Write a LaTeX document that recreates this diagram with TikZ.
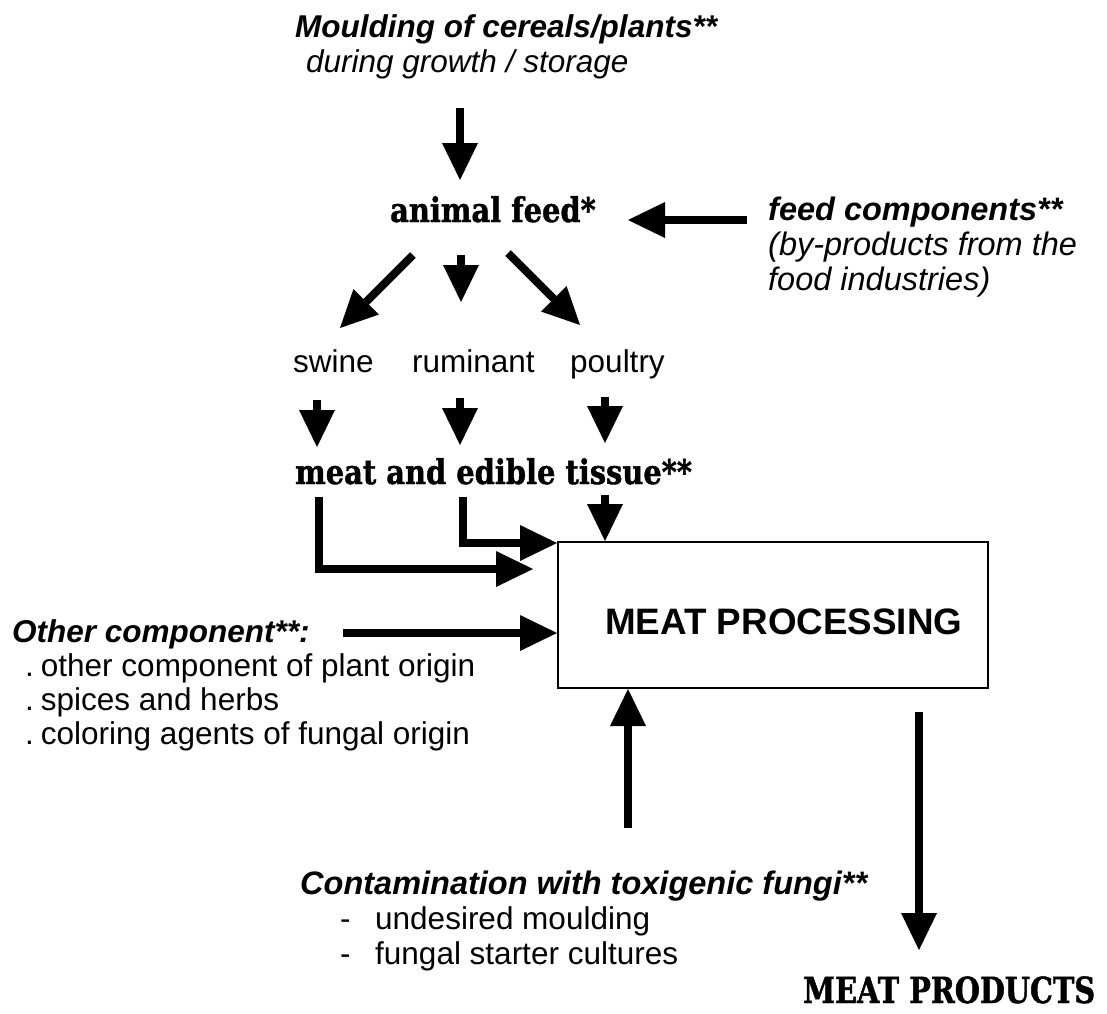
\documentclass[tikz,border=0pt]{standalone}
\usepackage{fontspec}
\setmainfont{Liberation Sans}
\newfontfamily\bookf{DejaVu Serif}[FakeStretch=0.85,FakeBold=1.2]
\newfontfamily\bookc{DejaVu Serif}[FakeStretch=0.8,FakeBold=1.2]
\usetikzlibrary{arrows.meta}
\begin{document}
\begin{tikzpicture}[x=1pt,y=-1pt,
  txt/.style={anchor=base west, inner sep=0pt, font=\fontsize{31.5}{35}\selectfont},
  btxt/.style={txt, font=\fontsize{31.5}{35}\selectfont\bfseries\itshape},
  itxt/.style={txt, font=\fontsize{31.5}{35}\selectfont\itshape},
  fctxt/.style={txt, font=\fontsize{32.5}{35}\selectfont\itshape},
  sertxt/.style={anchor=base west, inner sep=0pt, font=\fontsize{34}{36}\selectfont\bookf\bfseries},
  arr/.style={line width=8pt, -{Triangle[width=36pt,length=37pt,line width=0pt]}},
  boxstyle/.style={draw, line width=2pt, inner sep=0pt, anchor=north west}
]
\useasboundingbox[fill=white] (0,0) rectangle (1107,1013);

% top texts
\node[btxt] (t1) at (295,37) {Moulding of cereals/plants**};
\node[itxt] (t2) at (306,72) {during growth / storage};
\node[sertxt] (feed) at (390,222) {animal feed*};
\node[fctxt, font=\fontsize{32.5}{35}\selectfont\bfseries\itshape] (fc1) at (768,220) {feed components**};
\node[fctxt] (fc2) at (768,255) {(by-products from the};
\node[fctxt] (fc3) at (768,290) {food industries)};

% animals
\node[txt] (swine) at (293,372) {swine};
\node[txt] (rum) at (412,372) {ruminant};
\node[txt] (poul) at (570,372) {poultry};

\node[sertxt] (meat) at (295,484) {meat and edible tissue**};

% box
\node[boxstyle, minimum width=430pt, minimum height=146pt] (box) at (557,541) {};
\node[anchor=base west, inner sep=0pt, font=\fontsize{36.8}{40}\selectfont\bfseries] (mp) at (605,634) {MEAT PROCESSING};

% other components
\node[btxt] (oc) at (12,642) {Other component**:};
\node[txt] (oc1) at (25,676) {.\hspace{7pt}other component of plant origin};
\node[txt] (oc2) at (25,710) {.\hspace{7pt}spices and herbs};
\node[txt] (oc3) at (25,744) {.\hspace{7pt}coloring agents of fungal origin};

% contamination
\node[btxt, font=\fontsize{32.5}{35}\selectfont\bfseries\itshape] (cont) at (300,894) {Contamination with toxigenic fungi**};
\node[txt] (d1) at (340,929) {-};
\node[txt] (c1) at (375,929) {undesired moulding};
\node[txt] (d2) at (340,964) {-};
\node[txt] (c2) at (375,964) {fungal starter cultures};

\node[anchor=base west, inner sep=0pt, font=\fontsize{36}{38}\selectfont\bookc\bfseries] (prod) at (803,1003) {MEAT PRODUCTS};

% arrow coordinates
\coordinate (a1s) at (460,108);  \coordinate (a1e) at (460,180);
\coordinate (a2s) at (747,220);  \coordinate (a2e) at (628,220);
\coordinate (dls) at (413,255);  \coordinate (dle) at (340,328);
\coordinate (dms) at (461,255);  \coordinate (dme) at (461,302);
\coordinate (drs) at (508,253);  \coordinate (dre) at (580,325);
\coordinate (s1s) at (317,400);  \coordinate (s1e) at (317,447);
\coordinate (s2s) at (460,398);  \coordinate (s2e) at (460,445);
\coordinate (s3s) at (605,397);  \coordinate (s3e) at (605,443);
\coordinate (b1s) at (319,497);  \coordinate (b1e) at (533,569);
\coordinate (b2s) at (463,497);
\coordinate (b3s) at (605,495);
\coordinate (ocs) at (343,633);
\coordinate (ups) at (628,828);
\coordinate (dns) at (919,712);  \coordinate (dne) at (919,950);

\draw[arr] (a1s) -- (a1e);
\draw[arr] (a2s) -- (a2e);
\draw[arr] (dls) -- (dle);
\draw[arr] (dms) -- (dme);
\draw[arr] (drs) -- (dre);
\draw[arr] (s1s) -- (s1e);
\draw[arr] (s2s) -- (s2e);
\draw[arr] (s3s) -- (s3e);
\draw[arr] (b1s) |- (b1e);
\draw[arr] (b2s) |- ([yshift=-2pt]box.north west);
\draw[arr] (b3s) -- (b3s |- box.north);
\draw[arr] (ocs) -- (ocs -| box.west);
\draw[arr] (ups) -- (ups |- box.south);
\draw[arr] (dns) -- (dne);
\end{tikzpicture}
\end{document}
